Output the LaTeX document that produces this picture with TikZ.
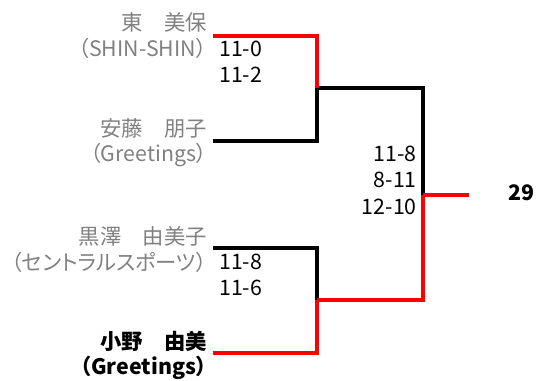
\documentclass[tikz,border=0pt]{standalone}
\usepackage{fontspec}
\setmainfont{Noto Sans CJK JP}
\newfontfamily\propfont[RawFeature=+palt]{Noto Sans CJK JP}
\definecolor{namegray}{HTML}{808080}
\definecolor{winred}{HTML}{FF0000}
\begin{document}
\begin{tikzpicture}[x=0.75pt,y=-0.75pt,
  lbl/.style={inner sep=0pt,font=\fontsize{16}{19}\selectfont},
  loser/.style={lbl,text=namegray,anchor=east},
  winner/.style={lbl,text=black,anchor=east,font=\fontsize{16}{19}\selectfont\bfseries},
  aff/.style={font=\propfont\fontsize{16}{19}\selectfont},
  affb/.style={font=\propfont\fontsize{16}{19}\selectfont\bfseries},
  scoreL/.style={lbl,anchor=west},
  scoreR/.style={lbl,anchor=east},
  blk/.style={line width=3pt,black},
  rd/.style={line width=3pt,winred}]
\useasboundingbox (0,0) rectangle (536,381);
% names
\node[loser] (n1) at (207,22) {東　美保};
\node[loser,aff] (a1) at (207,48) {（SHIN-SHIN）};
\node[loser] (n2) at (207,128) {安藤　朋子};
\node[loser,aff] (a2) at (207,155) {（Greetings）};
\node[loser] (n3) at (207,236) {黒澤　由美子};
\node[loser,aff] (a3) at (207,262) {（セントラルスポーツ）};
\node[winner] (n4) at (207,341) {小野　由美};
\node[winner,affb] (a4) at (207,368) {（Greetings）};
% scores
\node[scoreL] (s1a) at (219,49) {11-0};
\node[scoreL] (s1b) at (219,75) {11-2};
\node[scoreL] (s2a) at (219,262) {11-8};
\node[scoreL] (s2b) at (219,288) {11-6};
\node[scoreR] (s3a) at (417,154) {11-8};
\node[scoreR] (s3b) at (417,180) {8-11};
\node[scoreR] (s3c) at (417,207) {12-10};
\node[lbl,font=\fontsize{16}{19}\selectfont\bfseries,anchor=west] (res) at (508,193) {29};
% bracket coordinates
\coordinate (p1) at (213,36);
\coordinate (p2) at (213,141);
\coordinate (p3) at (213,248);
\coordinate (p4) at (213,353);
\coordinate (m1) at (317,88);
\coordinate (m2) at (317,300);
\coordinate (f) at (423,195);
\coordinate (fe) at (469,195);
% losers' lines
\draw[blk] (p2) -| (m1);
\draw[blk] (p3) -| (m2);
\draw[blk] (m1) -| (f);
% winners' lines
\draw[rd] (p1) -| (m1);
\draw[rd] (p4) -| (m2);
\draw[rd] (m2) -| (f);
\draw[rd] (f) -- (fe);
\end{tikzpicture}
\end{document}
